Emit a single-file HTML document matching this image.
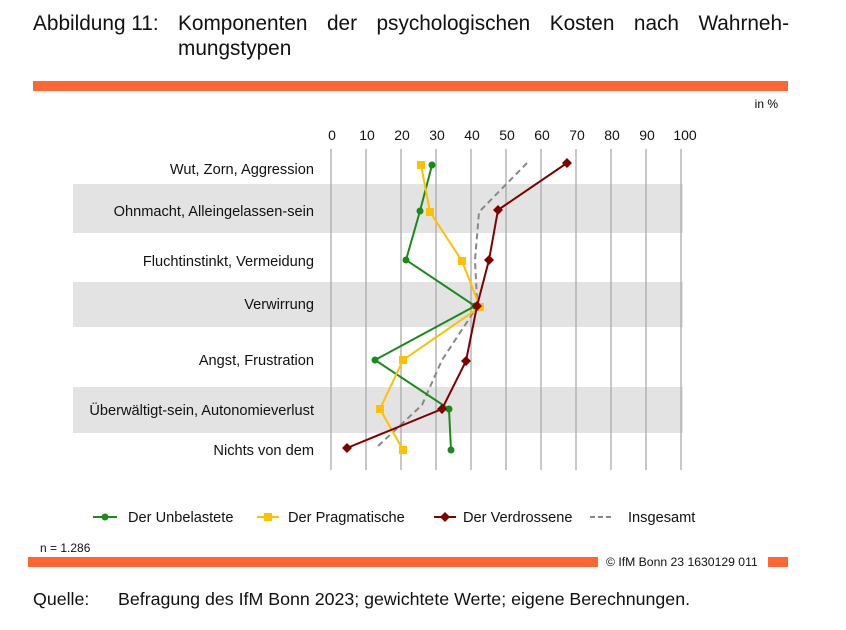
<!DOCTYPE html><html><head><style>
body{margin:0;width:846px;height:630px;background:#fff;font-family:"Liberation Sans",sans-serif;position:relative;overflow:hidden}
.t{position:absolute;font-size:20.8px;color:#111}
</style></head><body>
<div class="t" style="left:33px;top:12px">Abbildung 11:</div>
<div class="t" style="left:178px;top:12px;width:611px;text-align:justify;text-align-last:justify">Komponenten der psychologischen Kosten nach Wahrneh-</div>
<div class="t" style="left:178px;top:37px">mungstypen</div>
<div style="position:absolute;left:33px;top:81px;width:755px;height:10px;background:#ff6633"></div>
<svg width="846" height="630" style="position:absolute;left:0;top:0" font-family="Liberation Sans, sans-serif">
<text x="778" y="108" font-size="12" text-anchor="end">in %</text>
<rect x="73" y="184" width="610" height="49" fill="#e3e3e3"/>
<rect x="73" y="282" width="610" height="45" fill="#e3e3e3"/>
<rect x="73" y="387" width="610" height="46" fill="#e3e3e3"/>
<g stroke="#aaa" stroke-width="1.3">
<line x1="331" y1="149" x2="331" y2="470"/><line x1="366" y1="149" x2="366" y2="470"/><line x1="401" y1="149" x2="401" y2="470"/><line x1="436" y1="149" x2="436" y2="470"/><line x1="471" y1="149" x2="471" y2="470"/><line x1="506" y1="149" x2="506" y2="470"/><line x1="541" y1="149" x2="541" y2="470"/><line x1="576" y1="149" x2="576" y2="470"/><line x1="611" y1="149" x2="611" y2="470"/><line x1="646" y1="149" x2="646" y2="470"/><line x1="681" y1="149" x2="681" y2="470"/>
</g>
<g font-size="14" text-anchor="middle" fill="#111">
<text x="332" y="140">0</text><text x="367" y="140">10</text><text x="402" y="140">20</text><text x="437" y="140">30</text><text x="472" y="140">40</text><text x="507" y="140">50</text><text x="542" y="140">60</text><text x="577" y="140">70</text><text x="612" y="140">80</text><text x="647" y="140">90</text><text x="685" y="140">100</text>
</g>
<g font-size="14.6" text-anchor="end" fill="#111">
<text x="314" y="174">Wut, Zorn, Aggression</text>
<text x="314" y="216">Ohnmacht, Alleingelassen-sein</text>
<text x="314" y="266">Fluchtinstinkt, Vermeidung</text>
<text x="314" y="309">Verwirrung</text>
<text x="314" y="365">Angst, Frustration</text>
<text x="314" y="415">Überwältigt-sein, Autonomieverlust</text>
<text x="314" y="455">Nichts von dem</text>
</g>
<polyline fill="none" stroke="#888" stroke-width="2" stroke-dasharray="6,4" points="527,163 479,212 475,260 477,300 473,313 442,360 422,405 377,447"/>
<polyline fill="none" stroke="#1a8a1a" stroke-width="2" points="432,165 420,211 406,260 475,306 375,360 449,409 451,450"/>
<g fill="#1a8a1a"><circle cx="432" cy="165" r="3.5"/><circle cx="420" cy="211" r="3.5"/><circle cx="406" cy="260" r="3.5"/><circle cx="475" cy="306" r="3.5"/><circle cx="375" cy="360" r="3.5"/><circle cx="449" cy="409" r="3.5"/><circle cx="451" cy="450" r="3.5"/></g>
<polyline fill="none" stroke="#ffc000" stroke-width="2" points="421,165 430,212 462,261 480,307 403,360 380,409 403,450"/>
<g fill="#ffc000"><rect x="417" y="161" width="8" height="8"/><rect x="426" y="208" width="8" height="8"/><rect x="458" y="257" width="8" height="8"/><rect x="476" y="303" width="8" height="8"/><rect x="399" y="356" width="8" height="8"/><rect x="376" y="405" width="8" height="8"/><rect x="399" y="446" width="8" height="8"/></g>
<polyline fill="none" stroke="#800000" stroke-width="2" points="567,163 498,210 489,260 477,306 466,361 442,409 347,448"/>
<g fill="#800000">
<path d="M567,158 l5,5 l-5,5 l-5,-5z"/><path d="M498,205 l5,5 l-5,5 l-5,-5z"/><path d="M489,255 l5,5 l-5,5 l-5,-5z"/><path d="M477,301 l5,5 l-5,5 l-5,-5z"/><path d="M466,356 l5,5 l-5,5 l-5,-5z"/><path d="M442,404 l5,5 l-5,5 l-5,-5z"/><path d="M347,443 l5,5 l-5,5 l-5,-5z"/>
</g>
<g font-size="14.6" fill="#111">
<line x1="93" y1="517" x2="117" y2="517" stroke="#1a8a1a" stroke-width="2"/><circle cx="105" cy="517" r="3.5" fill="#1a8a1a"/><text x="128" y="522">Der Unbelastete</text>
<line x1="257" y1="517" x2="279" y2="517" stroke="#ffc000" stroke-width="2"/><rect x="264" y="513" width="8" height="8" fill="#ffc000"/><text x="288" y="522">Der Pragmatische</text>
<line x1="434" y1="517" x2="456" y2="517" stroke="#800000" stroke-width="2"/><path d="M445,512 l5,5 l-5,5 l-5,-5z" fill="#800000"/><text x="463" y="522">Der Verdrossene</text>
<line x1="590" y1="517" x2="612" y2="517" stroke="#888" stroke-width="2" stroke-dasharray="5,3"/><text x="628" y="522">Insgesamt</text>
</g>
<text x="40" y="552" font-size="12" fill="#111">n = 1.286</text>
<rect x="28" y="557" width="570" height="10" fill="#ff6633"/>
<text x="606" y="566" font-size="12.2" fill="#111">© IfM Bonn 23 1630129 011</text>
<rect x="768" y="557" width="20" height="10" fill="#ff6633"/>
</svg>
<div style="position:absolute;left:33px;top:589px;font-size:17.8px;color:#111">Quelle:</div>
<div style="position:absolute;left:118px;top:589px;font-size:17.8px;color:#111">Befragung des IfM Bonn 2023; gewichtete Werte; eigene Berechnungen.</div>
</body></html>
